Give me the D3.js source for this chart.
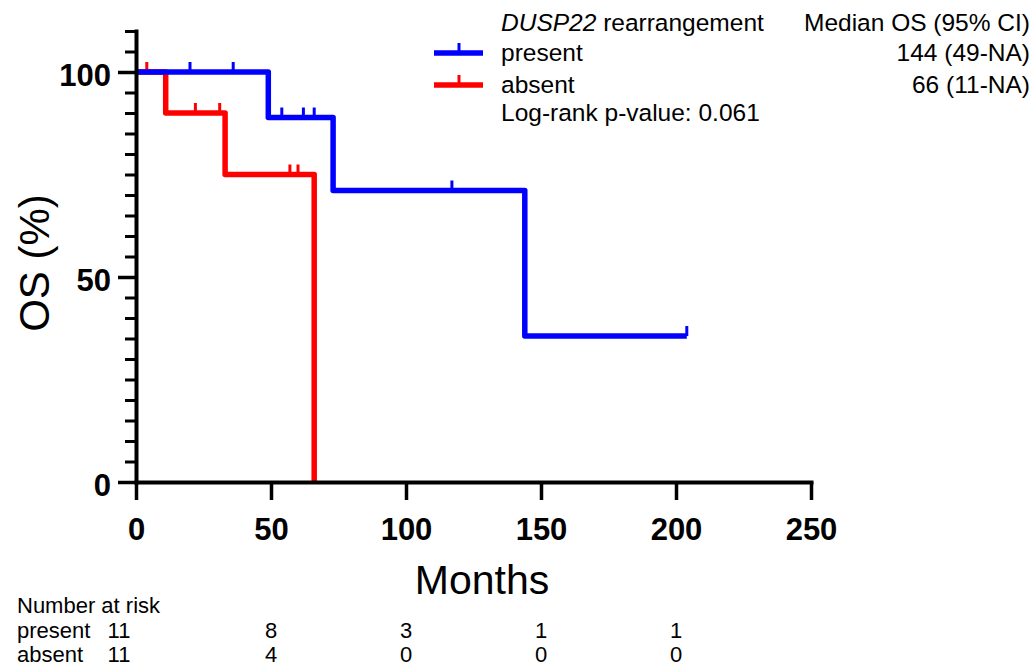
<!DOCTYPE html>
<html>
<head>
<meta charset="utf-8">
<script src="https://cdn.jsdelivr.net/npm/d3@7"></script>
<style>
  body { margin: 0; background: #fff; }
  svg text { font-family: "Liberation Sans", Arial, sans-serif; }
</style>
</head>
<body>
<svg id="chart" width="1033" height="669"></svg>
<script>
// survival curves (time in months, OS in %)
var presentSteps = [[0, 100], [49, 88.9], [73, 71.1], [144, 35.6]];
var presentEnd = 204;
var presentCensor = [20, 36, 54, 62, 66, 117, 204];

var absentSteps = [[0, 100], [11, 90], [33, 75], [66, 0]];
var absentEnd = 66;
var absentCensor = [4, 22, 31, 57, 60];

var xTicks = [0, 50, 100, 150, 200, 250];
var yTicks = [0, 50, 100];

var riskTimes = [0, 50, 100, 150, 200];
var riskPresent = [11, 8, 3, 1, 1];
var riskAbsent = [11, 4, 0, 0, 0];

var legendRows = [
    {label: "present", median: "144 (49-NA)", color: "#0000ff"},
    {label: "absent", median: "66 (11-NA)", color: "#ff0000"}
];

var svg = d3.select("#chart");

var x = d3.scaleLinear().domain([0, 250]).range([136, 811]);
var y = d3.scaleLinear().domain([0, 110]).range([482, 31]);

// step path from KM steps
function stepPoints(steps, end) {
    var pts = [];
    steps.forEach(function (s, i) {
        if (i > 0) pts.push([s[0], steps[i - 1][1]]);
        pts.push(s);
    });
    var last = steps[steps.length - 1];
    if (end > last[0]) pts.push([end, last[1]]);
    return pts;
}

function survivalAt(steps, t) {
    var v = 100;
    steps.forEach(function (s) { if (s[0] <= t) v = s[1]; });
    return v;
}

var line = d3.line().x(d => x(d[0])).y(d => y(d[1]));

function drawCurve(steps, end, censor, color) {
    var g = svg.append("g");
    g.append("path")
        .attr("d", line(stepPoints(steps, end)))
        .attr("fill", "none")
        .attr("stroke", color)
        .attr("stroke-width", 5.5)
        .attr("stroke-linejoin", "round");
    g.selectAll("line")
        .data(censor)
        .enter().append("line")
        .attr("x1", d => x(d)).attr("x2", d => x(d))
        .attr("y1", d => y(survivalAt(steps, d)))
        .attr("y2", d => y(survivalAt(steps, d)) - 10)
        .attr("stroke", color)
        .attr("stroke-width", 3);
}

drawCurve(absentSteps, absentEnd, absentCensor, "#ff0000");
drawCurve(presentSteps, presentEnd, presentCensor, "#0000ff");

// y axis
var minorY = d3.range(5, 111, 5).filter(v => v % 50 != 0);
svg.append("g")
    .attr("transform", "translate(" + x(0) + ",0)")
    .call(d3.axisLeft(y).tickValues(minorY).tickSize(11).tickSizeOuter(0).tickFormat(""))
    .call(g => g.selectAll("line").attr("stroke-width", 3))
    .call(g => g.select(".domain").remove());

var yAxis = svg.append("g")
    .attr("transform", "translate(" + x(0) + ",0)")
    .call(d3.axisLeft(y).tickValues(yTicks).tickSize(18).tickSizeOuter(0).tickPadding(7));
yAxis.select(".domain").attr("stroke-width", 4).attr("stroke-linecap", "square");
yAxis.selectAll("line").attr("stroke-width", 3.5);
yAxis.selectAll("text")
    .attr("font-size", 31).attr("font-weight", "bold")
    .attr("font-family", "Liberation Sans, Arial, sans-serif")
    .attr("dy", "0.45em");

// x axis
var xAxis = svg.append("g")
    .attr("transform", "translate(0," + y(0) + ")")
    .call(d3.axisBottom(x).tickValues(xTicks).tickSize(18).tickSizeOuter(0).tickPadding(18));
xAxis.select(".domain").attr("stroke-width", 4).attr("stroke-linecap", "square");
xAxis.selectAll("line").attr("stroke-width", 3.5);
xAxis.selectAll("text")
    .attr("font-size", 31).attr("font-weight", "bold")
    .attr("font-family", "Liberation Sans, Arial, sans-serif");

// axis titles
svg.append("text")
    .attr("transform", "translate(49,263) rotate(-90)")
    .attr("text-anchor", "middle")
    .attr("font-size", 42)
    .text("OS (%)");

svg.append("text")
    .attr("x", 482).attr("y", 594)
    .attr("text-anchor", "middle")
    .attr("font-size", 41)
    .text("Months");

// legend
var legend = svg.append("g").attr("font-size", 24.5);
var head = legend.append("text").attr("x", 501).attr("y", 31);
head.append("tspan").attr("font-style", "italic").text("DUSP22");
head.append("tspan").text(" rearrangement");
legend.append("text").attr("x", 1030).attr("y", 31).attr("text-anchor", "end").text("Median OS (95% CI)");

legendRows.forEach(function (r, i) {
    var ly = 53 + i * 32;
    legend.append("line")
        .attr("x1", 434).attr("x2", 483).attr("y1", ly).attr("y2", ly)
        .attr("stroke", r.color).attr("stroke-width", 5.5);
    legend.append("line")
        .attr("x1", 459).attr("x2", 459).attr("y1", ly).attr("y2", ly - 10)
        .attr("stroke", r.color).attr("stroke-width", 3);
    legend.append("text").attr("x", 501).attr("y", ly + 8).text(r.label);
    legend.append("text").attr("x", 1030).attr("y", ly + 8).attr("text-anchor", "end").text(r.median);
});
legend.append("text").attr("x", 501).attr("y", 121).text("Log-rank p-value: 0.061");

// number at risk table
var risk = svg.append("g").attr("font-size", 22);
risk.append("text").attr("x", 17).attr("y", 613).text("Number at risk");
[["present", riskPresent, 638], ["absent", riskAbsent, 662]].forEach(function (row) {
    risk.append("text").attr("x", 17).attr("y", row[2]).text(row[0]);
    risk.selectAll(null)
        .data(row[1])
        .enter().append("text")
        .attr("x", (d, i) => i == 0 ? x(riskTimes[i]) - 17 : x(riskTimes[i]))
        .attr("y", row[2])
        .attr("text-anchor", "middle")
        .text(d => d);
});
</script>
</body>
</html>
